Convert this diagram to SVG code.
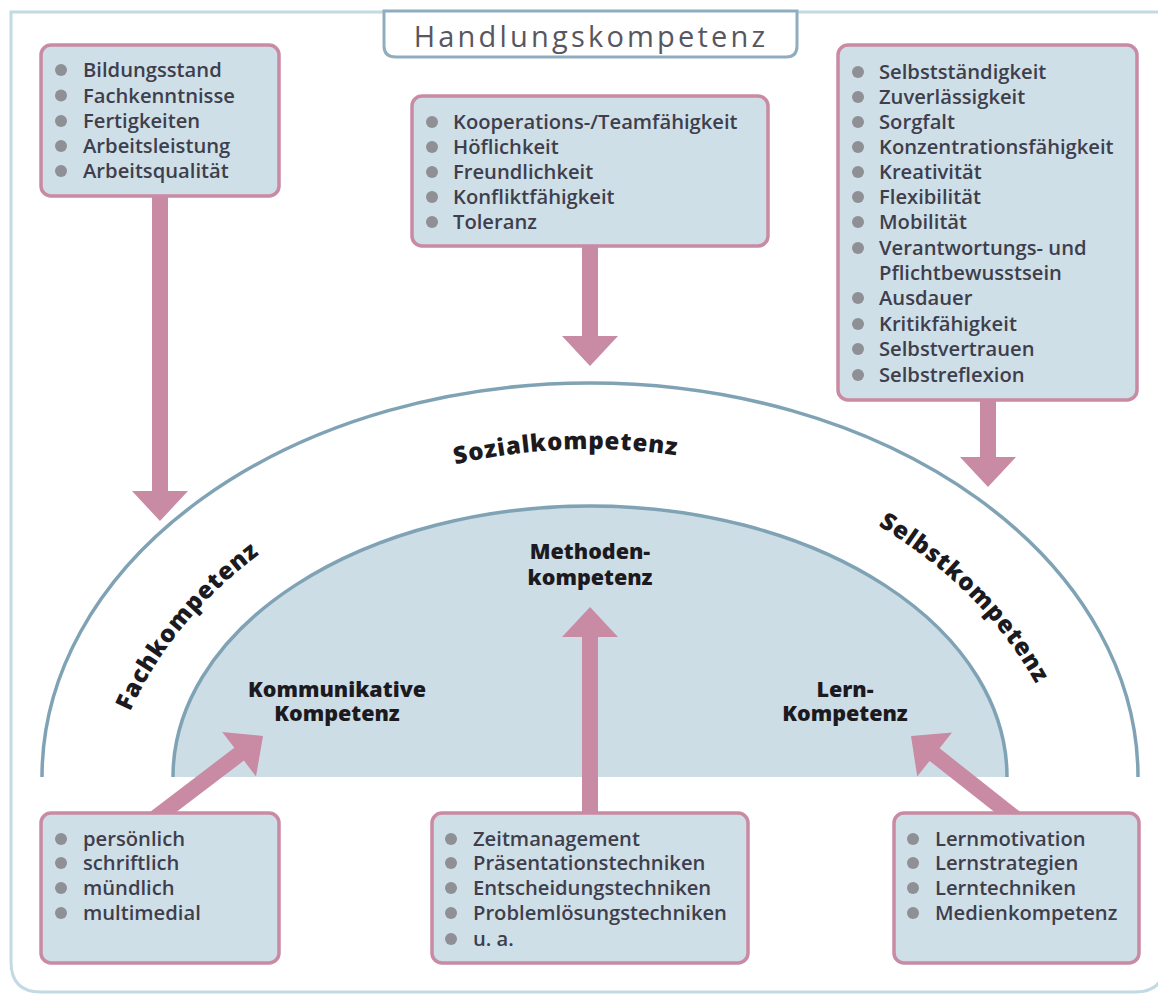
<svg xmlns="http://www.w3.org/2000/svg" xmlns:xlink="http://www.w3.org/1999/xlink" width="1158" height="994" viewBox="0 0 1158 994">
<defs>
<style>
.box{fill:#cfdfe7;stroke:#c98ba3;stroke-width:3.5}
.bul{fill:#8f8f96}
.item{font-family:"Open Sans","Liberation Sans",sans-serif;font-size:20.2px;font-weight:600;fill:#3e3e4c}
.lbl{font-family:"Open Sans","Liberation Sans",sans-serif;font-size:21.5px;font-weight:800;fill:#1c1a1e;text-anchor:middle}
.arc{font-family:"Open Sans","Liberation Sans",sans-serif;font-size:24px;font-weight:800;fill:#1c1a1e;letter-spacing:0.8px}
.arrow{fill:#c98ba3}
</style>
<path id="labelArc" d="M100,850 A490,401 0 0 1 1080,850"/>
</defs>
<rect width="1158" height="994" fill="#ffffff"/>
<path d="M11,12 H1165 V962 Q1165,992 1135,992 H41 Q11,992 11,962 Z" fill="none" stroke="#c3d9e3" stroke-width="3"/>
<g id="title">
<path d="M384,11 V46 Q384,57 396,57 H786 Q797,57 797,46 V11 Z" fill="#ffffff" stroke="#8fadbf" stroke-width="3"/>
<text x="591" y="47" text-anchor="middle" font-family="'Open Sans','Liberation Sans',sans-serif" font-size="29" letter-spacing="3.2" fill="#57575f">Handlungskompetenz</text>
</g>
<g id="arcs">
<path d="M42,777 A548,394 0 0 1 1138,777" fill="none" stroke="#7fa3b5" stroke-width="3.5"/>
<path d="M173,777 A417,271 0 0 1 1007,777 Z" fill="#cddde6"/>
<path d="M173,777 A417,271 0 0 1 1007,777" fill="none" stroke="#7fa3b5" stroke-width="3.5"/>
</g>
<g id="arc-labels">
<text class="arc" text-anchor="middle"><textPath xlink:href="#labelArc" href="#labelArc" startOffset="246">Fachkompetenz</textPath></text>
<text class="arc" text-anchor="middle"><textPath xlink:href="#labelArc" href="#labelArc" startOffset="677">Sozialkompetenz</textPath></text>
<text class="arc" text-anchor="middle"><textPath xlink:href="#labelArc" href="#labelArc" startOffset="1116">Selbstkompetenz</textPath></text>
</g>
<g id="inner-labels">
<text class="lbl" x="590" y="559">Methoden-</text>
<text class="lbl" x="590" y="585">kompetenz</text>
<text class="lbl" x="337" y="697">Kommunikative</text>
<text class="lbl" x="337" y="721">Kompetenz</text>
<text class="lbl" x="845" y="697">Lern-</text>
<text class="lbl" x="845" y="721">Kompetenz</text>
</g>
<g id="connectors">
<polygon class="arrow" points="152,190 168,190 168,491 188,491 160,521 132,491 152,491"/>
<polygon class="arrow" points="582,240 598,240 598,336 618,336 590,366 562,336 582,336"/>
<polygon class="arrow" points="980,395 996,395 996,457 1016,457 988,487 960,457 980,457"/>
<polygon class="arrow" points="582,820 598,820 598,637 618,637 590,607 562,637 582,637"/>
<polygon class="arrow" points="146.7,814.4 234.3,747.8 222.2,731.9 263,736 256,776.5 243.9,760.6 156.3,827.2"/>
<polygon class="arrow" points="1026,816.5 939.6,748.3 952,732.6 911,736 917.2,776.6 929.6,760.9 1016,829.1"/>
</g>
<g id="box-fach">
<rect class="box" x="41" y="45" width="238" height="151" rx="10"/>
<circle class="bul" cx="61" cy="70" r="6"/><text class="item" x="83" y="77">Bildungsstand</text>
<circle class="bul" cx="61" cy="95.5" r="6"/><text class="item" x="83" y="102.5">Fachkenntnisse</text>
<circle class="bul" cx="61" cy="121" r="6"/><text class="item" x="83" y="128">Fertigkeiten</text>
<circle class="bul" cx="61" cy="146" r="6"/><text class="item" x="83" y="153">Arbeitsleistung</text>
<circle class="bul" cx="61" cy="171" r="6"/><text class="item" x="83" y="178">Arbeitsqualität</text>
</g>
<g id="box-sozial">
<rect class="box" x="412" y="96" width="356" height="150" rx="10"/>
<circle class="bul" cx="432" cy="122" r="6"/><text class="item" x="453" y="129">Kooperations-/Teamfähigkeit</text>
<circle class="bul" cx="432" cy="147" r="6"/><text class="item" x="453" y="154">Höflichkeit</text>
<circle class="bul" cx="432" cy="172" r="6"/><text class="item" x="453" y="179">Freundlichkeit</text>
<circle class="bul" cx="432" cy="197" r="6"/><text class="item" x="453" y="204">Konfliktfähigkeit</text>
<circle class="bul" cx="432" cy="222" r="6"/><text class="item" x="453" y="229">Toleranz</text>
</g>
<g id="box-selbst">
<rect class="box" x="838" y="45" width="299" height="355" rx="10"/>
<circle class="bul" cx="858" cy="72" r="6"/><text class="item" x="879" y="79">Selbstständigkeit</text>
<circle class="bul" cx="858" cy="97" r="6"/><text class="item" x="879" y="104">Zuverlässigkeit</text>
<circle class="bul" cx="858" cy="122" r="6"/><text class="item" x="879" y="129">Sorgfalt</text>
<circle class="bul" cx="858" cy="147" r="6"/><text class="item" x="879" y="154">Konzentrationsfähigkeit</text>
<circle class="bul" cx="858" cy="172" r="6"/><text class="item" x="879" y="179">Kreativität</text>
<circle class="bul" cx="858" cy="197" r="6"/><text class="item" x="879" y="204">Flexibilität</text>
<circle class="bul" cx="858" cy="222" r="6"/><text class="item" x="879" y="229">Mobilität</text>
<circle class="bul" cx="858" cy="248" r="6"/><text class="item" x="879" y="255">Verantwortungs- und</text>
<text class="item" x="879" y="280">Pflichtbewusstsein</text>
<circle class="bul" cx="858" cy="298" r="6"/><text class="item" x="879" y="305">Ausdauer</text>
<circle class="bul" cx="858" cy="324" r="6"/><text class="item" x="879" y="331">Kritikfähigkeit</text>
<circle class="bul" cx="858" cy="349" r="6"/><text class="item" x="879" y="356">Selbstvertrauen</text>
<circle class="bul" cx="858" cy="375" r="6"/><text class="item" x="879" y="382">Selbstreflexion</text>
</g>
<g id="box-kommunikation">
<rect class="box" x="41" y="813" width="238" height="150" rx="10"/>
<circle class="bul" cx="61" cy="839" r="6"/><text class="item" x="83" y="846">persönlich</text>
<circle class="bul" cx="61" cy="863" r="6"/><text class="item" x="83" y="870">schriftlich</text>
<circle class="bul" cx="61" cy="888" r="6"/><text class="item" x="83" y="895">mündlich</text>
<circle class="bul" cx="61" cy="913" r="6"/><text class="item" x="83" y="920">multimedial</text>
</g>
<g id="box-methoden">
<rect class="box" x="432" y="813" width="316" height="150" rx="10"/>
<circle class="bul" cx="451" cy="839" r="6"/><text class="item" x="473" y="846">Zeitmanagement</text>
<circle class="bul" cx="451" cy="863" r="6"/><text class="item" x="473" y="870">Präsentationstechniken</text>
<circle class="bul" cx="451" cy="888" r="6"/><text class="item" x="473" y="895">Entscheidungstechniken</text>
<circle class="bul" cx="451" cy="913" r="6"/><text class="item" x="473" y="920">Problemlösungstechniken</text>
<circle class="bul" cx="451" cy="939" r="6"/><text class="item" x="473" y="946">u. a.</text>
</g>
<g id="box-lern">
<rect class="box" x="894" y="813" width="245" height="150" rx="10"/>
<circle class="bul" cx="913" cy="839" r="6"/><text class="item" x="935" y="846">Lernmotivation</text>
<circle class="bul" cx="913" cy="863" r="6"/><text class="item" x="935" y="870">Lernstrategien</text>
<circle class="bul" cx="913" cy="888" r="6"/><text class="item" x="935" y="895">Lerntechniken</text>
<circle class="bul" cx="913" cy="913" r="6"/><text class="item" x="935" y="920">Medienkompetenz</text>
</g>
</svg>
